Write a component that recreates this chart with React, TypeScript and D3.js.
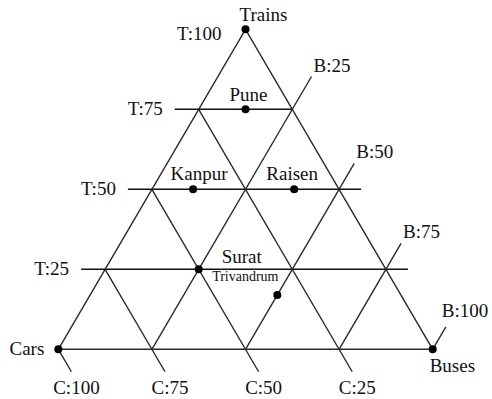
import React from 'react';
import * as d3 from 'd3';

// ternary chart: share of trips by Trains / Buses / Cars
const vertexNames = ['Trains', 'Cars', 'Buses'];
const cities = ['Pune', 'Kanpur', 'Raisen', 'Surat', 'Trivandrum'];
const trainsShare = [75, 50, 50, 25, 17];
const busesShare = [12.5, 11, 38, 25, 50];
const carsShare = [12.5, 39, 12, 50, 33];
const trainsTicks = [25, 50, 75, 100];
const busesTicks = [25, 50, 75, 100];
const carsTicks = [100, 75, 50, 25];

const W = 492;
const H = 399;

// T -> vertical, (B + T/2) -> horizontal
const yScale = d3.scaleLinear().domain([0, 100]).range([349.3, 29.3]);
const xScale = d3.scaleLinear().domain([0, 100]).range([58.3, 432.7]);

function project(t: number, b: number): [number, number] {
  return [xScale(b + t / 2), yScale(t)];
}

const cars = project(0, 0);
const buses = project(0, 100);
const trains = project(100, 0);

function unit(a: [number, number], b: [number, number]): [number, number] {
  const dx = b[0] - a[0], dy = b[1] - a[1];
  const l = Math.hypot(dx, dy);
  return [dx / l, dy / l];
}
const upRight = unit(cars, trains);   // direction of B lines
const downRight = unit(trains, buses); // direction of C lines

const labelOffset: Record<string, { dx: number; dy: number; size: number }> = {
  Pune: { dx: 3, dy: -8, size: 19 },
  Kanpur: { dx: 6, dy: -9, size: 19 },
  Raisen: { dx: -2, dy: -9, size: 19 },
  Surat: { dx: 43, dy: -6, size: 19 },
  Trivandrum: { dx: -32, dy: -14, size: 14 },
};

const stroke = '#2a2a2a';
const font = '"Liberation Serif", "Times New Roman", serif';

export default function App() {
  const edge = d3.line();
  const tLines = trainsTicks.filter(t => t < 100).map(t => {
    const [xl, y] = project(t, 0);
    const [xr] = project(t, 100 - t);
    return { t, x1: xl - 24, x2: xr + (t < 75 ? 22 : 0), y };
  });
  const bLines = busesTicks.map(b => {
    const p0 = project(0, b);
    const p1 = project(100 - b, b);
    const ext = b === 25 ? 38 : b === 100 ? 26 : 30;
    const p2: [number, number] = [p1[0] + upRight[0] * ext, p1[1] + upRight[1] * ext];
    return { b, p0, p2 };
  });
  const cLines = carsTicks.map(c => {
    const p0 = project(100 - c, 0);
    const p1 = project(0, 100 - c);
    const p2: [number, number] = [p1[0] + downRight[0] * 26, p1[1] + downRight[1] * 26];
    return { c, p0, p2 };
  });

  return (
    <svg width={W} height={H} style={{ position: 'absolute', left: 0, top: 0, background: '#fff' }}
      fontFamily={font} fill="#111">
      <path d={edge([cars, trains, buses, cars]) || ''} fill="none" stroke={stroke} strokeWidth={1.4} />
      {tLines.map(l => (
        <g key={'t' + l.t}>
          <line x1={l.x1} x2={l.x2} y1={l.y} y2={l.y} stroke="#111" strokeWidth={1.4} />
          <text x={l.x1 - 12} y={l.y + 6} textAnchor="end" fontSize={19}>{`T:${l.t}`}</text>
        </g>
      ))}
      <text x={trains[0] - 24} y={trains[1] + 11} textAnchor="end" fontSize={19}>{`T:${trainsTicks[3]}`}</text>
      {bLines.map(l => (
        <g key={'b' + l.b}>
          <line x1={l.p0[0]} y1={l.p0[1]} x2={l.p2[0]} y2={l.p2[1]} stroke={stroke} strokeWidth={1.4} />
          <text x={l.p2[0] + (l.b === 100 ? -4 : 2)} y={l.p2[1] - (l.b === 100 ? 10 : 5)} fontSize={19}>{`B:${l.b}`}</text>
        </g>
      ))}
      {cLines.map(l => (
        <g key={'c' + l.c}>
          <line x1={l.p0[0]} y1={l.p0[1]} x2={l.p2[0]} y2={l.p2[1]} stroke={stroke} strokeWidth={1.4} />
          <text x={l.p2[0] + 5} y={l.p2[1] + 22} textAnchor="middle" fontSize={19}>{`C:${l.c}`}</text>
        </g>
      ))}
      {[trains, cars, buses].map((p, i) => (
        <circle key={'v' + i} cx={p[0]} cy={p[1]} r={4} fill="#000" />
      ))}
      <text x={trains[0] + 18} y={trains[1] - 8} textAnchor="middle" fontSize={19}>{vertexNames[0]}</text>
      <text x={cars[0] - 14} y={cars[1] + 6} textAnchor="end" fontSize={19}>{vertexNames[1]}</text>
      <text x={buses[0] - 3} y={buses[1] + 23} fontSize={19}>{vertexNames[2]}</text>
      {cities.map((name, i) => {
        const [x, y] = project(trainsShare[i], busesShare[i]);
        const o = labelOffset[name];
        return (
          <g key={name} data-cars={carsShare[i]}>
            <circle cx={x} cy={y} r={4} fill="#000" />
            <text x={x + o.dx} y={y + o.dy} textAnchor="middle" fontSize={o.size}>{name}</text>
          </g>
        );
      })}
    </svg>
  );
}
